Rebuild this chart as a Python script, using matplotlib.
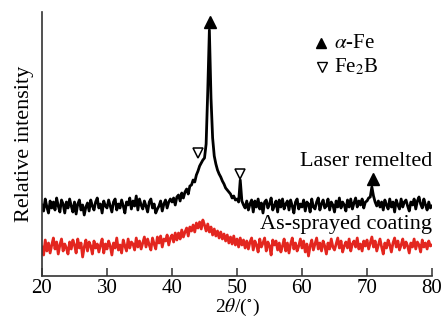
import numpy as np
import matplotlib
matplotlib.use("Agg")
import matplotlib.pyplot as plt

# 2theta 从 20 到 80, 每行一度, 步长 0.25 (数值是从图上读的, 纵轴为相对高度)
black_rows = [
    [71, 65, 77, 69], [63, 75, 68, 74], [66, 78, 70, 64], [76, 72, 63, 74],  # 20-23
    [68, 77, 70, 64], [74, 62, 72, 76], [66, 71, 61, 69], [73, 65, 76, 70],  # 24-27
    [66, 74, 78, 68], [72, 63, 75, 70], [68, 76, 70, 64], [74, 77, 66, 72],  # 28-31
    [68, 76, 70, 63], [74, 71, 78, 67], [75, 70, 80, 66], [77, 71, 67, 75],  # 32-35
    [70, 64, 74, 77], [68, 72, 63, 67], [70, 75, 65, 72], [76, 68, 74, 77],  # 36-39
    [74, 78, 71, 79], [81, 75, 83, 78], [84, 87, 82, 90], [91, 96, 94, 101],  # 40-43
    [105, 110, 113, 116], [118, 132, 185, 246], [178, 138, 120, 112],        # 44-46
    [106, 102, 99, 95], [92, 88, 86, 84], [82, 78, 80, 76],                   # 47-49
    [77, 74, 96, 75], [71, 68, 75, 66], [72, 76, 64, 75], [69, 77, 67, 73],  # 50-53
    [63, 74, 76, 68], [72, 78, 66, 70], [75, 64, 76, 69], [77, 67, 72, 75],  # 54-57
    [66, 76, 70, 63], [74, 77, 67, 72], [69, 76, 65, 74], [72, 64, 77, 69],  # 58-61
    [67, 74, 78, 66], [72, 76, 68, 70], [77, 66, 74, 71], [64, 75, 69, 78],  # 62-65
    [68, 74, 71, 65], [76, 69, 77, 67], [73, 78, 69, 75], [71, 77, 68, 74],  # 66-69
    [75, 78, 79, 89], [80, 74, 70, 75], [69, 74, 66, 76], [71, 67, 77, 69],  # 70-73
    [74, 64, 76, 71], [67, 77, 69, 74], [76, 70, 65, 74], [71, 77, 67, 75],  # 74-77
    [79, 72, 68, 77], [71, 66, 74, 68],                                      # 78-79
]
black_end = 70

red_rows = [
    [29, 21, 36, 25], [33, 23, 31, 38], [27, 34, 22, 31], [37, 25, 32, 28],  # 20-23
    [22, 34, 27, 36], [31, 23, 37, 28], [33, 19, 29, 36], [25, 34, 30, 22],  # 24-27
    [35, 28, 32, 24], [31, 37, 23, 32], [27, 35, 30, 21], [33, 28, 38, 26],  # 28-31
    [31, 23, 36, 30], [25, 37, 28, 34], [32, 26, 38, 29], [35, 27, 33, 39],  # 32-35
    [29, 37, 31, 26], [38, 32, 27, 39], [33, 40, 29, 37], [35, 41, 31, 38],  # 36-39
    [41, 34, 43, 36], [43, 37, 46, 39], [44, 48, 40, 49], [45, 51, 44, 53],  # 40-43
    [48, 54, 47, 56], [51, 45, 52, 44], [49, 41, 47, 40], [45, 38, 44, 37],  # 44-47
    [42, 35, 41, 33], [39, 32, 40, 31], [37, 29, 38, 31], [36, 28, 35, 27],  # 48-51
    [34, 38, 26, 35], [31, 24, 37, 29], [33, 38, 25, 34], [30, 21, 36, 31],  # 52-55
    [35, 26, 33, 24], [30, 37, 25, 33], [23, 32, 38, 27], [33, 25, 30, 37],  # 56-59
    [28, 35, 24, 32], [20, 30, 36, 26], [32, 38, 27, 33], [25, 35, 30, 22],  # 60-63
    [33, 27, 37, 29], [26, 32, 38, 28], [35, 24, 30, 34], [28, 37, 25, 32],  # 64-67
    [35, 29, 38, 27], [32, 25, 35, 30], [36, 27, 33, 39], [29, 35, 25, 31],  # 68-71
    [37, 29, 22, 33], [28, 36, 31, 24], [33, 38, 29, 35], [26, 31, 37, 28],  # 72-75
    [34, 30, 23, 33], [29, 37, 27, 34], [31, 24, 36, 29], [33, 27, 35, 30],  # 76-79
]
red_end = 31

black = np.array(sum(black_rows, []) + [black_end], dtype=float)
red = np.array(sum(red_rows, []) + [red_end], dtype=float)
two_theta = 20 + 0.25 * np.arange(len(black))

# 峰标记 (位置, 高度)
alpha_fe_x = [45.8, 70.9]
alpha_fe_y = [254, 97]
fe2b_x = [44.0, 50.5]
fe2b_y = [123, 102]

plt.rcParams.update({"font.family": ["Liberation Serif", "DejaVu Serif"],
                     "mathtext.fontset": "stix", "font.size": 15})

fig = plt.figure(figsize=(4.43, 3.2), dpi=100)
ax = fig.add_axes([42/443, 44/320, 390/443, 264/320])

ax.plot(two_theta, black, color="black", linewidth=2.0)
ax.plot(two_theta, red, color="#e3261f", linewidth=2.0)

ax.plot(alpha_fe_x, alpha_fe_y, "^", color="black", markersize=8, linestyle="none")
ax.plot(fe2b_x, fe2b_y, "v", markerfacecolor="white", markeredgecolor="black",
        markeredgewidth=1.1, markersize=7.5, linestyle="none")

# 图例(手工放)
ax.plot([62.9], [233], "^", color="black", markersize=7)
ax.text(65.0, 233, r"$\alpha$-Fe", fontsize=15, va="center", ha="left")
ax.plot([63.0], [209], "v", markerfacecolor="white", markeredgecolor="black",
        markeredgewidth=1.0, markersize=6.5)
ax.text(65.0, 209, r"Fe$_2$B", fontsize=15, va="center", ha="left")

ax.text(80, 115, "Laser remelted", fontsize=16, ha="right", va="center")
ax.text(80, 52, "As-sprayed coating", fontsize=16, ha="right", va="center")

ax.set_xlim(20, 80)
ax.set_ylim(0, 264)
ax.set_xticks(range(20, 81, 10))
ax.set_yticks([])
for s in ["top", "right"]:
    ax.spines[s].set_visible(False)
for s in ["left", "bottom"]:
    ax.spines[s].set_color("#333333")
    ax.spines[s].set_linewidth(1.2)
ax.tick_params(axis="x", direction="in", length=6, width=1.1, color="#333333", pad=2)
ax.set_ylabel("Relative intensity", fontsize=16, labelpad=6)
ax.set_xlabel(r"2$\theta$/($^{\circ}$)", fontsize=14, labelpad=-1)

fig.savefig("out.png", dpi=100)
